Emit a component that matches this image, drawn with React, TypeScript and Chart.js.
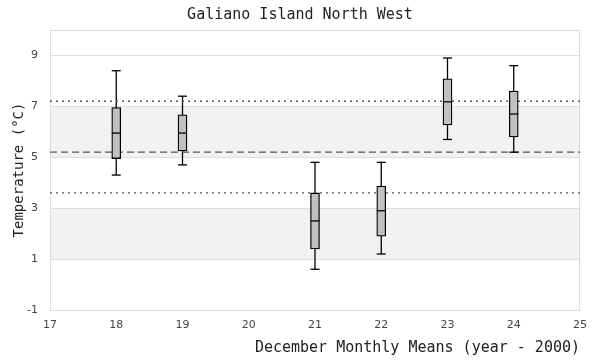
import React, { useEffect, useRef } from 'react';
import { Chart, registerables } from 'chart.js';

Chart.register(...registerables);

const years = [18, 19, 21, 22, 23, 24];
const whiskerLow = [4.3, 4.7, 0.6, 1.2, 5.7, 5.2];
const boxLow = [4.95, 5.25, 1.4, 1.9, 6.27, 5.8];
const medians = [5.95, 5.95, 2.5, 2.9, 7.18, 6.7];
const boxHigh = [6.95, 6.67, 3.6, 3.87, 8.08, 7.6];
const whiskerHigh = [8.4, 7.4, 4.8, 4.8, 8.9, 8.6];

const meanValue = 5.2;
const upperRef = 7.2;
const lowerRef = 3.6;

const bands = [
  [1, 3],
  [5, 7],
];
const yTicks = [-1, 1, 3, 5, 7, 9];
const xRange = [17, 25];
const yRange = [-1, 10];

const titleText = 'Galiano Island North West';
const xTitle = 'December Monthly Means (year - 2000)';
const yTitle = 'Temperature (°C)';

const MONO = "'DejaVu Sans Mono', monospace";
const SANS = "'DejaVu Sans', sans-serif";

const boxPlugin = {
  id: 'boxExtras',
  beforeDraw(chart: any) {
    const { ctx, chartArea: a, scales } = chart;
    const y = scales.y;
    ctx.save();
    ctx.fillStyle = '#f2f2f2';
    bands.forEach(([lo, hi]) => {
      const y1 = y.getPixelForValue(hi);
      const y2 = y.getPixelForValue(lo);
      ctx.fillRect(a.left, y1, a.right - a.left, y2 - y1);
    });
    ctx.restore();
  },
  beforeDatasetsDraw(chart: any) {
    const { ctx, chartArea: a, scales } = chart;
    const x = scales.x;
    const y = scales.y;
    ctx.save();
    ctx.strokeStyle = '#dddddd';
    ctx.lineWidth = 1;
    ctx.strokeRect(a.left + 0.5, a.top + 0.5, a.right - a.left - 1, a.bottom - a.top);
    ctx.strokeStyle = '#000';
    ctx.lineWidth = 1.3;
    years.forEach((yr, i) => {
      const px = x.getPixelForValue(yr);
      ctx.beginPath();
      ctx.moveTo(px, y.getPixelForValue(whiskerLow[i]));
      ctx.lineTo(px, y.getPixelForValue(whiskerHigh[i]));
      ctx.stroke();
    });
    ctx.restore();
  },
  afterDatasetsDraw(chart: any) {
    const { ctx, scales } = chart;
    const x = scales.x;
    const y = scales.y;
    ctx.save();
    ctx.strokeStyle = '#000';
    ctx.lineWidth = 1.3;
    const hw = 4.5;
    years.forEach((yr, i) => {
      const px = x.getPixelForValue(yr);
      [whiskerLow[i], whiskerHigh[i], medians[i]].forEach((v) => {
        const py = y.getPixelForValue(v);
        ctx.beginPath();
        ctx.moveTo(px - hw, py);
        ctx.lineTo(px + hw, py);
        ctx.stroke();
      });
    });
    ctx.restore();
  },
};

export default function App() {
  const ref = useRef<HTMLCanvasElement>(null);

  useEffect(() => {
    document.body.style.margin = '0';
    const canvas = ref.current;
    if (!canvas) return;
    const refLine = (v: number, dash: number[]) => ({
      type: 'line' as const,
      data: [
        { x: xRange[0], y: v },
        { x: xRange[1], y: v },
      ],
      borderColor: '#555555',
      borderWidth: 1.3,
      borderDash: dash,
      pointRadius: 0,
      order: 2,
    });
    const chart = new Chart(canvas, {
      type: 'bar',
      data: {
        datasets: [
          {
            type: 'bar',
            data: years.map((yr, i) => ({ x: yr, y: [boxLow[i], boxHigh[i]] })) as any,
            backgroundColor: '#c0c0c0',
            borderColor: '#000000',
            borderWidth: 1.3,
            borderSkipped: false,
            barThickness: 9,
            grouped: false,
            order: 0,
          } as any,
          refLine(upperRef, [2, 4]) as any,
          refLine(meanValue, [7, 4]) as any,
          refLine(lowerRef, [2, 4]) as any,
        ],
      },
      options: {
        responsive: false,
        animation: false,
        layout: { padding: 0 },
        plugins: {
          legend: { display: false },
          tooltip: { enabled: false },
          title: {
            display: true,
            text: titleText,
            color: '#222222',
            font: { family: MONO, size: 15, weight: 'normal' },
            padding: { top: 6, bottom: 6 },
          },
        },
        scales: {
          x: {
            type: 'linear',
            offset: false,
            min: xRange[0],
            max: xRange[1],
            ticks: {
              stepSize: 1,
              padding: 9,
              color: '#444444',
              font: { family: SANS, size: 11 },
            },
            grid: { display: false, drawTicks: false, offset: false },
            border: { display: true, color: '#dddddd' },
            title: {
              display: true,
              text: xTitle,
              align: 'end',
              color: '#222222',
              font: { family: MONO, size: 15 },
              padding: { top: 4, bottom: 3 },
            },
            afterFit: (s: any) => {
              s.height = 50;
            },
          },
          y: {
            type: 'linear',
            min: yRange[0],
            max: yRange[1],
            afterBuildTicks: (s: any) => {
              s.ticks = yTicks.map((v) => ({ value: v }));
            },
            ticks: {
              padding: 12,
              color: '#444444',
              font: { family: SANS, size: 11 },
            },
            grid: { color: '#dddddd', drawTicks: false },
            border: { display: true, color: '#dddddd' },
            title: {
              display: true,
              text: yTitle,
              color: '#222222',
              font: { family: MONO, size: 14 },
              padding: { top: 10.5, bottom: 0 },
            },
            afterFit: (s: any) => {
              s.width = 50;
            },
          },
          yRight: {
            type: 'linear',
            position: 'right',
            min: yRange[0],
            max: yRange[1],
            display: true,
            ticks: { display: false },
            grid: { display: false, drawTicks: false },
            border: { display: false },
            title: { display: false },
            afterFit: (s: any) => {
              s.width = 20;
            },
          },
        },
      },
      plugins: [boxPlugin],
    } as any);
    return () => chart.destroy();
  }, []);

  return (
    <div style={{ width: 600, height: 360 }}>
      <canvas ref={ref} width={600} height={360} />
    </div>
  );
}
